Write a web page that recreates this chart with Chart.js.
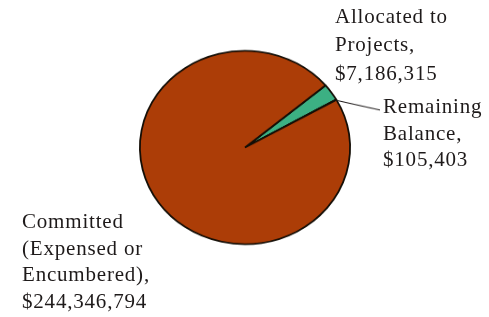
<!DOCTYPE html>
<html>
<head>
<meta charset="utf-8">
<script src="https://cdn.jsdelivr.net/npm/chart.js@4/dist/chart.umd.min.js"></script>
<style>
  html, body { margin: 0; padding: 0; background: #ffffff; }
  #stage { position: relative; width: 489px; height: 317px; overflow: hidden; background: #fff; }
  #wrap { position: absolute; left: 0; top: 0; width: 489px; height: 317px;
          transform: scaleY(0.92); transform-origin: 0 147.5px; }
  .lbl { position: absolute; font-family: "Liberation Serif", "Times New Roman", serif;
         font-size: 21px; color: #1e1a1a; letter-spacing: 0.8px; white-space: nowrap; }
</style>
</head>
<body>
<div id="stage">
  <div id="wrap"><canvas id="c" width="489" height="317"></canvas></div>
  <div class="lbl" id="lAlloc" style="left:335px; top:2.1px; line-height:28.3px;"></div>
  <div class="lbl" id="lRem" style="left:383px; top:93px; line-height:26.5px;"></div>
  <div class="lbl" id="lComm" style="left:22px; top:207.9px; line-height:26.7px;"></div>
</div>
<script>
// ---- data ----
const categories = ["Allocated to Projects", "Remaining Balance", "Committed (Expensed or Encumbered)"];
const amounts = [7186315, 105403, 244346794];
const labelLines = [
  ["Allocated to", "Projects,"],
  ["Remaining", "Balance,"],
  ["Committed", "(Expensed or", "Encumbered),"]
];
const sliceColors = ["#3cb083", "#2f5f8f", "#ac3d07"];

const fmt = v => "$" + v.toLocaleString("en-US");
const ids = ["lAlloc", "lRem", "lComm"];
ids.forEach((id, i) => {
  const el = document.getElementById(id);
  el.innerHTML = labelLines[i].concat([fmt(amounts[i])]).map(s => s.replace(/&/g,"&amp;")).join("<br>");
});

const SY = 0.92, CY = 147.5;           // vertical squash of the canvas (screen = CY + (y-CY)*SY)
const leaderEnd = { x: 380, y: 110 };   // screen position of the leader line end (next to "Remaining")

const leader = {
  id: "leader",
  afterDatasetsDraw(chart) {
    const arc = chart.getDatasetMeta(0).data[1];
    const p = arc.getProps(["x", "y", "outerRadius", "startAngle", "endAngle"], true);
    const a = (p.startAngle + p.endAngle) / 2;
    const sx = p.x + Math.cos(a) * (p.outerRadius - 1);
    const sy = p.y + Math.sin(a) * (p.outerRadius - 1);
    const ex = leaderEnd.x;
    const ey = CY + (leaderEnd.y - CY) / SY;
    const ctx = chart.ctx;
    ctx.save();
    ctx.strokeStyle = "#1e1a1a";
    ctx.lineWidth = 1.2;
    ctx.beginPath();
    ctx.moveTo(sx, sy);
    ctx.lineTo(ex, ey);
    ctx.stroke();
    ctx.restore();
  }
};

new Chart(document.getElementById("c"), {
  type: "pie",
  data: {
    labels: categories,
    datasets: [{
      data: amounts,
      backgroundColor: sliceColors,
      borderColor: "#140e06",
      borderWidth: 1.8
    }]
  },
  options: {
    responsive: false,
    animation: false,
    rotation: 50,
    layout: { padding: { left: 139, right: 138, top: 41.5, bottom: 63.5 } },
    plugins: { legend: { display: false }, tooltip: { enabled: false } }
  },
  plugins: [leader]
});
</script>
</body>
</html>
